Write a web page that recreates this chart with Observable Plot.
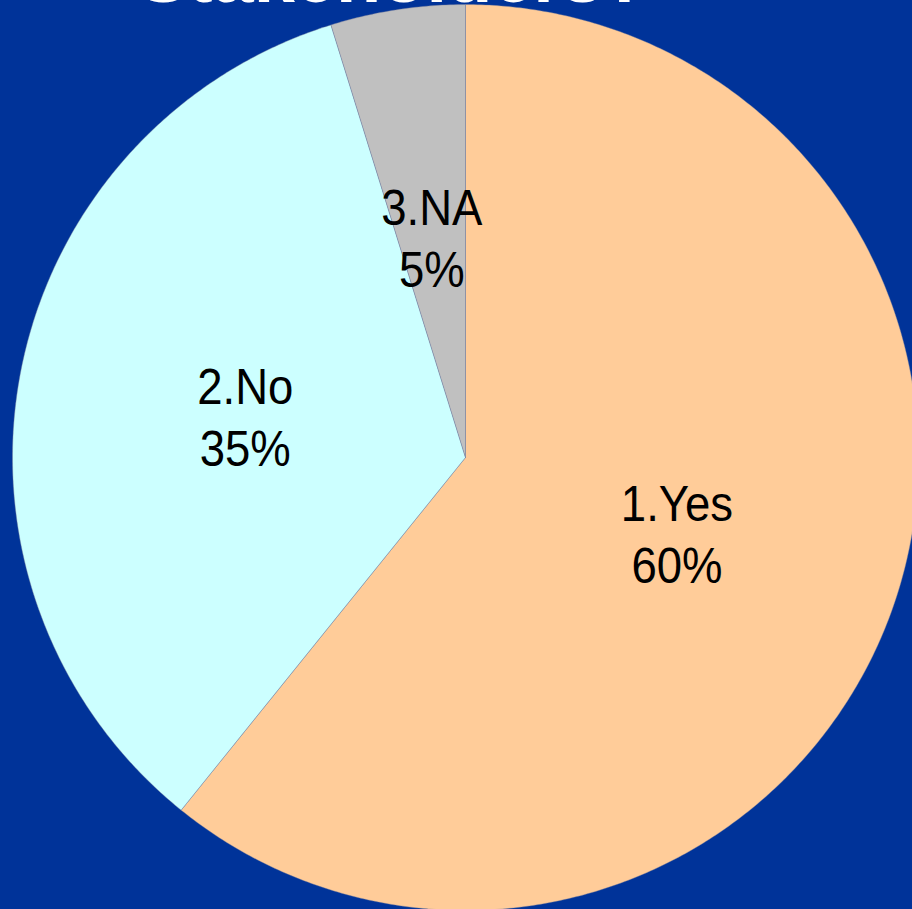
<!DOCTYPE html>
<html>
<head>
<meta charset="utf-8">
<script src="https://cdn.jsdelivr.net/npm/d3@7"></script>
<script src="https://cdn.jsdelivr.net/npm/@observablehq/plot@0.6"></script>
<style>
  html, body { margin: 0; padding: 0; background: #003399; overflow: hidden; }
  #chart { width: 912px; height: 909px; position: relative; }
</style>
</head>
<body>
<div id="chart"></div>
<script>
// ---- data ----
const categories = ["1.Yes", "2.No", "3.NA"];
const values = [60.8, 34.4, 4.8];
const percentLabels = ["60%", "35%", "5%"];
const colors = ["#FFCC99", "#CCFFFF", "#C0C0C0"];
const title = "Stakeholders?";

// ---- layout ----
const W = 912, H = 909;
const cx = 465, cy = 457, R = 453;

const table = categories.map((c, i) => ({cat: c, value: values[i], pct: percentLabels[i]}));
const arcs = d3.pie().sort(null).value(d => d.value)(table);

// slice outlines in unit-circle coordinates (y up), angle clockwise from top
const slicePts = [];
arcs.forEach(a => {
  const cat = a.data.cat;
  slicePts.push({cat, x: 0, y: 0});
  const n = Math.max(4, Math.ceil((a.endAngle - a.startAngle) / (Math.PI / 360)));
  for (let k = 0; k <= n; k++) {
    const t = a.startAngle + (a.endAngle - a.startAngle) * k / n;
    slicePts.push({cat, x: Math.sin(t), y: Math.cos(t)});
  }
  slicePts.push({cat, x: 0, y: 0});
});

const labelR = 0.495;
const labels = arcs.map(a => {
  const m = (a.startAngle + a.endAngle) / 2;
  return {x: labelR * Math.sin(m), y: labelR * Math.cos(m), text: a.data.cat + "\n" + a.data.pct};
});

const chart = Plot.plot({
  width: W,
  height: H,
  margin: 0,
  style: {background: "#003399", overflow: "visible"},
  x: {domain: [-1, 1], range: [cx - R, cx + R], axis: null},
  y: {domain: [-1, 1], range: [cy + R, cy - R], axis: null},
  color: {domain: categories, range: colors},
  marks: [
    Plot.line(slicePts, {x: "x", y: "y", z: "cat", fill: "cat", stroke: "#7a7f99", strokeWidth: 0.4, curve: "linear"}),
    Plot.text(labels, {x: "x", y: "y", text: "text", fontSize: 50, lineHeight: 1.24,
      fontFamily: "Liberation Sans, Arial, sans-serif", fill: "black", lineAnchor: "middle", className: "slice-label"}),
    Plot.text([title], {frameAnchor: "top", dx: -63, dy: 1.5, lineAnchor: "bottom", text: d => d,
      fontSize: 74, fontWeight: "bold", fontFamily: "Liberation Sans, Arial, sans-serif", fill: "white"})
  ]
});

// horizontally condensed label glyphs as in the reference
d3.select(chart).selectAll("g.slice-label text").each(function () {
  const tr = this.getAttribute("transform");
  if (tr) this.setAttribute("transform", tr + " scale(0.91,1)");
});

document.getElementById("chart").appendChild(chart);
</script>
</body>
</html>
